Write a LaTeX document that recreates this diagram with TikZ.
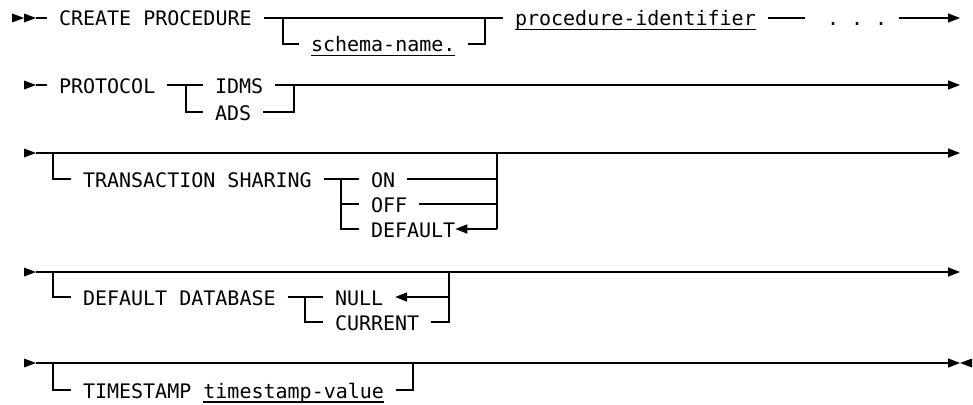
\documentclass[tikz,border=0pt]{standalone}
\usepackage{fontspec}
\setmonofont{DejaVu Sans Mono}
\usetikzlibrary{arrows.meta}
\newcommand\ulx[1]{\setbox0\hbox{#1}\rlap{\rule[-4.5pt]{\wd0}{1.4pt}}\box0}
\begin{document}
\begin{tikzpicture}[x=1pt,y=-1pt,
  rr/.style={line width=1.5pt,line cap=butt},
  txt/.style={anchor=west,inner xsep=12pt,inner ysep=0pt,outer sep=0pt,text height=16pt,text depth=0pt,font=\ttfamily\fontsize{20pt}{24pt}\selectfont},
  tip/.style={-{Triangle[length=12pt,width=9pt]}}]
\useasboundingbox (0,0) rectangle (973,404);
% ---------- row 1
\coordinate (r1m) at (24,18);
\coordinate (r1s) at (36,18);
\node[txt] (cp) at (47,18) {CREATE PROCEDURE};
\coordinate (r1a) at (283,18);
\coordinate (r1b) at (283,44);
\node[txt] (sn) at (299,44) {\ulx{schema-name.}};
\coordinate (r1c) at (485,44);
\coordinate (r1d) at (485,18);
\node[txt] (pid) at (503,18) {\ulx{procedure-identifier}};
\coordinate (r1e) at (805,18);
\node[txt] (dots) at (815,18) {. . .};
\coordinate (r1end) at (960,18);
\fill (r1m) -- ++(-12,-4.5) -- ++(0,9) -- cycle;
\fill (r1s) -- ++(-12,-4.5) -- ++(0,9) -- cycle;
\draw[rr] (r1s) -- (cp.west);
\draw[rr] (cp.east) -- (pid.west);
\draw[rr] (r1a) -- (r1b) -- (sn.west);
\draw[rr] (sn.east) -- (r1c) -- (r1d);
\draw[rr] (pid.east) -- (r1e);
\draw[rr,tip] (dots.east) -- (r1end);
% ---------- row 2
\coordinate (r2s) at (36,85);
\node[txt] (proto) at (47,85) {PROTOCOL};
\coordinate (r2a) at (186,85);
\coordinate (r2b) at (186,112);
\node[txt] (idms) at (203,85) {IDMS};
\node[txt] (ads) at (203,112) {ADS};
\coordinate (r2c) at (294,112);
\coordinate (r2d) at (294,85);
\coordinate (r2end) at (960,85);
\fill (r2s) -- ++(-12,-4.5) -- ++(0,9) -- cycle;
\draw[rr] (r2s) -- (proto.west);
\draw[rr] (proto.east) -- (idms.west);
\draw[rr] (r2a) -- (r2b) -- (ads.west);
\draw[rr] (ads.east) -- (r2c) -- (r2d);
\draw[rr,tip] (idms.east) -- (r2end);
% ---------- row 3
\coordinate (r3s) at (36,153);
\coordinate (r3a) at (53,153);
\coordinate (r3b) at (53,179);
\coordinate (r3end) at (960,153);
\node[txt] (ts) at (71,179) {TRANSACTION SHARING};
\coordinate (r3c) at (341,179);
\coordinate (r3f) at (341,204);
\coordinate (r3d) at (341,229);
\node[txt] (on) at (359,179) {ON};
\node[txt] (off) at (359,204) {OFF};
\node[txt] (dflt) at (359,229) {DEFAULT};
\coordinate (r3g) at (497,153);
\coordinate (r3on) at (497,179);
\coordinate (r3off) at (497,204);
\coordinate (r3h) at (497,229);
\fill (r3s) -- ++(-12,-4.5) -- ++(0,9) -- cycle;
\draw[rr,tip] (r3s) -- (r3end);
\draw[rr] (r3a) -- (r3b) -- (ts.west);
\draw[rr] (ts.east) -- (on.west);
\draw[rr] (r3c) -- (r3d) -- (dflt.west);
\draw[rr] (r3f) -- (off.west);
\draw[rr] (on.east) -- (r3on);
\draw[rr] (off.east) -- (r3off);
\draw[rr] (r3g) -- (r3h);
\draw[rr,tip] (r3h) -- ([xshift=-12pt]dflt.east);
% ---------- row 4
\coordinate (r4s) at (36,272);
\coordinate (r4a) at (53,272);
\coordinate (r4b) at (53,297);
\coordinate (r4end) at (960,272);
\node[txt] (dd) at (71,297) {DEFAULT DATABASE};
\coordinate (r4c) at (305,297);
\coordinate (r4d) at (305,322);
\node[txt] (nul) at (323,297) {NULL};
\node[txt] (cur) at (323,322) {CURRENT};
\coordinate (r4e) at (449,272);
\coordinate (r4g) at (449,297);
\coordinate (r4f) at (449,322);
\fill (r4s) -- ++(-12,-4.5) -- ++(0,9) -- cycle;
\draw[rr,tip] (r4s) -- (r4end);
\draw[rr] (r4a) -- (r4b) -- (dd.west);
\draw[rr] (dd.east) -- (nul.west);
\draw[rr] (r4c) -- (r4d) -- (cur.west);
\draw[rr] (cur.east) -- (r4f) -- (r4e);
\draw[rr,tip] (r4g) -- (nul.east);
% ---------- row 5
\coordinate (r5s) at (36,363);
\coordinate (r5a) at (53,363);
\coordinate (r5b) at (53,390);
\coordinate (r5end) at (960,363);
\node[txt] (tsp) at (71,390) {TIMESTAMP \ulx{timestamp-value}};
\coordinate (r5c) at (413,390);
\coordinate (r5d) at (413,363);
\fill (r5s) -- ++(-12,-4.5) -- ++(0,9) -- cycle;
\draw[rr,tip] (r5s) -- (r5end);
\fill (r5end) -- ++(12,-4.5) -- ++(0,9) -- cycle;
\draw[rr] (r5a) -- (r5b) -- (tsp.west);
\draw[rr] (tsp.east) -- (r5c) -- (r5d);
\end{tikzpicture}
\end{document}
